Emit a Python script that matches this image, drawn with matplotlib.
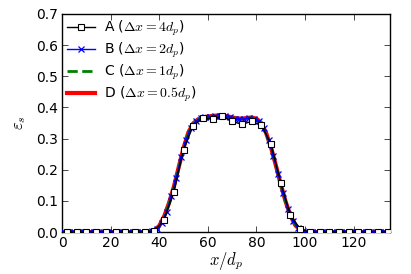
import matplotlib
matplotlib.use("Agg")
import matplotlib.pyplot as plt

plt.rcParams['mathtext.fontset'] = 'cm'
plt.rcParams['font.family'] = 'DejaVu Sans'

# Series A: dx = 4 d_p (cell centres)
xA = [2, 6, 10, 14, 18, 22, 26, 30, 34, 38, 42, 46, 50, 54, 58, 62, 66, 70, 74,
      78, 82, 86, 90, 94, 98, 102, 106, 110, 114, 118, 122, 126, 130, 134]
yA = [0.0, 0.0, 0.0, 0.0, 0.0, 0.0, 0.0, 0.0, 0.0, 0.004, 0.040, 0.128, 0.264,
      0.342, 0.365, 0.363, 0.371, 0.355, 0.346, 0.355, 0.343, 0.284, 0.159,
      0.055, 0.010, 0.0, 0.0, 0.0, 0.0, 0.0, 0.0, 0.0, 0.0, 0.0]

# Series B: dx = 2 d_p
xB = [1, 3, 5, 7, 9, 11, 13, 15, 17, 19, 21, 23, 25, 27, 29, 31, 33, 35, 37, 39,
      41, 43, 45, 47, 49, 51, 53, 55, 57, 59, 61, 63, 65, 67, 69, 71, 73, 75, 77,
      79, 81, 83, 85, 87, 89, 91, 93, 95, 97, 99, 101, 103, 105, 107, 109, 111,
      113, 115, 117, 119, 121, 123, 125, 127, 129, 131, 133, 135]
yB = [0.0, 0.0, 0.0, 0.0, 0.0, 0.0, 0.0, 0.0, 0.0, 0.0, 0.0, 0.0, 0.0, 0.0, 0.0,
      0.0, 0.0, 0.0, 0.002, 0.010, 0.030, 0.065, 0.115, 0.175, 0.240, 0.295,
      0.335, 0.355, 0.365, 0.368, 0.370, 0.372, 0.373, 0.372, 0.368, 0.364,
      0.362, 0.363, 0.365, 0.364, 0.355, 0.333, 0.295, 0.243, 0.185, 0.125,
      0.075, 0.037, 0.014, 0.004, 0.001, 0.0, 0.0, 0.0, 0.0, 0.0, 0.0, 0.0, 0.0,
      0.0, 0.0, 0.0, 0.0, 0.0, 0.0, 0.0, 0.0, 0.0]

# Series C: dx = 1 d_p (read at 2 d_p intervals)
xC = [0, 4, 8, 12, 16, 20, 24, 28, 32, 36, 38, 40, 42, 44, 46, 48, 50, 52, 54,
      56, 58, 60, 62, 64, 66, 68, 70, 72, 74, 76, 78, 80, 82, 84, 86, 88, 90,
      92, 94, 96, 98, 100, 102, 106, 110, 114, 118, 122, 126, 130, 135]
yC = [0.0, 0.0, 0.0, 0.0, 0.0, 0.0, 0.0, 0.0, 0.0, 0.001, 0.005, 0.018, 0.047,
      0.090, 0.142, 0.205, 0.268, 0.318, 0.348, 0.362, 0.368, 0.370, 0.372,
      0.374, 0.374, 0.371, 0.367, 0.364, 0.363, 0.365, 0.367, 0.362, 0.347,
      0.315, 0.270, 0.212, 0.152, 0.097, 0.052, 0.022, 0.007, 0.001, 0.0, 0.0,
      0.0, 0.0, 0.0, 0.0, 0.0, 0.0, 0.0]

# Series D: dx = 0.5 d_p (read at 2 d_p intervals)
xD = [0, 4, 8, 12, 16, 20, 24, 28, 32, 36, 38, 40, 42, 44, 46, 48, 50, 52, 54,
      56, 58, 60, 62, 64, 66, 68, 70, 72, 74, 76, 78, 80, 82, 84, 86, 88, 90,
      92, 94, 96, 98, 100, 102, 106, 110, 114, 118, 122, 126, 130, 135]
yD = [0.0, 0.0, 0.0, 0.0, 0.0, 0.0, 0.0, 0.0, 0.0, 0.001, 0.006, 0.020, 0.050,
      0.093, 0.145, 0.208, 0.270, 0.320, 0.349, 0.362, 0.368, 0.371, 0.373,
      0.374, 0.374, 0.372, 0.368, 0.365, 0.364, 0.366, 0.368, 0.364, 0.350,
      0.318, 0.272, 0.214, 0.154, 0.098, 0.053, 0.022, 0.007, 0.001, 0.0, 0.0,
      0.0, 0.0, 0.0, 0.0, 0.0, 0.0, 0.0]

labels = [r'A ($\Delta x = 4 d_p$)', r'B ($\Delta x = 2 d_p$)',
          r'C ($\Delta x = 1 d_p$)', r'D ($\Delta x = 0.5 d_p$)']
xticks = [0, 20, 40, 60, 80, 100, 120]
yticks = [0.0, 0.1, 0.2, 0.3, 0.4, 0.5, 0.6, 0.7]

fig = plt.figure(figsize=(4.11, 2.74), dpi=100)
ax = fig.add_axes([0.151, 0.153, 0.798, 0.796])

ax.plot(xA, yA, color='k', lw=1.0, marker='s', ms=4, mfc='w', mec='k',
        mew=0.8, label=labels[0], zorder=4)
ax.plot(xB, yB, color='b', lw=1.0, marker='x', ms=4, mew=0.9,
        label=labels[1], zorder=3)
ax.plot(xC, yC, color='g', lw=2.0, ls='--', label=labels[2], zorder=2)
ax.plot(xD, yD, color='r', lw=3.0, label=labels[3], zorder=1)

ax.set_xlim(0, 135)
ax.set_ylim(0, 0.7)
ax.set_xticks(xticks)
ax.set_yticks(yticks)
ax.set_yticklabels(['%.1f' % v for v in yticks])
ax.tick_params(direction='in', top=True, right=True, length=4, width=0.5,
               labelsize=10, pad=3)
for s in ax.spines.values():
    s.set_linewidth(1.0)

ax.set_xlabel(r'$x/d_p$', fontsize=12, labelpad=0)
ax.set_ylabel(r'$\varepsilon_s$', fontsize=12, labelpad=6)

ax.legend(loc='upper left', frameon=False, fontsize=10, handlelength=2.0,
          labelspacing=0.2, borderaxespad=0.15, handletextpad=0.7,
          borderpad=0.2, numpoints=1)

fig.savefig('out.png', dpi=100, facecolor='white')
